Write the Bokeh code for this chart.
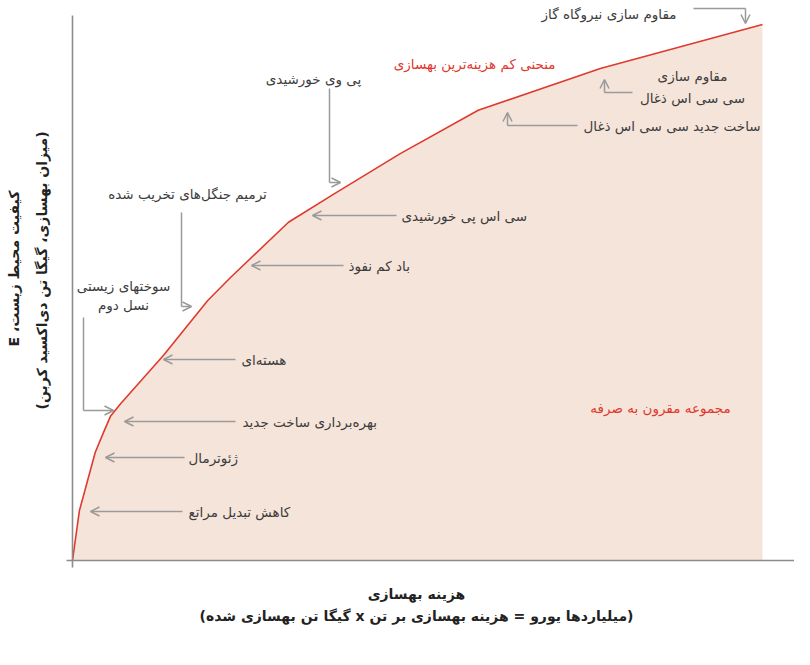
from math import pi
from bokeh.plotting import figure
from bokeh.models import Range1d, Arrow, OpenHead, ColumnDataSource
from bokeh.embed import file_html
from bokeh.resources import INLINE
from bokeh.core.properties import value

# ---------------- data ----------------
# cumulative abatement cost (x) vs. abatement volume (y), arbitrary units 0..100
cost = [0, 1.0, 3.3, 4.5, 5.5, 7.0, 13.2, 19.6, 22.9, 31.3, 37.8, 47.5, 58.8, 76.5, 100]
abatement = [0, 9.3, 20.2, 23.9, 26.9, 29.3, 38.3, 48.5, 52.8, 63.1, 68.3, 75.9, 84.0, 91.8, 100]

curve_label = "منحنی کم هزینه‌ترین بهسازی"
area_label = "مجموعه مقرون به صرفه"

RLE, PDF = "\u202b", "\u202c"
x_title = ["هزینه بهسازی",
           RLE + "(میلیاردها یورو = هزینه بهسازی بر تن x گیگا تن بهسازی شده)" + PDF]
y_title = [RLE + "کیفیت محیط زیست، E" + PDF,
           "(میزان بهسازی، گیگا تن دی‌اکسید کربن)"]

# ---------------- layout helpers (picture pixels -> data) ----------------
X0, SX = 72.0, 6.9
Y0, SY = 560.0, 5.36
def X(px): return (px - X0) / SX
def Y(py): return (Y0 - py) / SY

W, H = 794, 649
GRAY = "#9a9a9a"
AXIS = "#8c8c8c"
TXT = "#3c3c3c"
RED = "#e0392d"
FILL = "#f5e4da"
FONT = value("DejaVu Sans")

p = figure(width=W, height=H, output_backend="svg", toolbar_location=None,
           x_range=Range1d(X(0), X(W)), y_range=Range1d(Y(H), Y(0)),
           min_border=0, outline_line_color=None)
p.axis.visible = False
p.grid.visible = False
p.background_fill_color = "white"

# shaded feasible set and curve
p.varea(x=cost, y1=[0] * len(cost), y2=abatement, fill_color=FILL)
p.line(x=cost, y=abatement, line_color=RED, line_width=1.6)

# axes lines
p.segment(x0=[X(72), X(66)], y0=[Y(15), Y(560)], x1=[X(72), X(W)], y1=[Y(567), Y(560)],
          line_color=AXIS, line_width=1.6)

# ---------------- annotations ----------------
# straight arrows: (text, text px x, text px y, tail px x, head px x)
straight = [
    ("کاهش تبدیل مراتع", 188, 511, 182, 90),
    ("ژئوترمال", 188, 457, 184, 105),
    ("بهره‌برداری ساخت جدید", 242, 421, 235, 124),
    ("هسته‌ای", 241, 359, 235, 163),
    ("سی اس پی خورشیدی", 401, 215, 396, 312),
    ("باد کم نفوذ", 348, 265, 343, 251),
]
src_left = dict(x=[], y=[], t=[])
for t, tx, ty, xa, xb in straight:
    src_left["x"].append(X(tx)); src_left["y"].append(Y(ty)); src_left["t"].append(t)
    p.add_layout(Arrow(end=OpenHead(size=9, line_color=GRAY, line_width=1.5),
                       x_start=X(xa), y_start=Y(ty), x_end=X(xb), y_end=Y(ty),
                       line_color=GRAY, line_width=1.5))
src_left["x"].append(X(583)); src_left["y"].append(Y(125)); src_left["t"].append("ساخت جدید سی سی اس ذغال")
p.text(x="x", y="y", text="t", source=ColumnDataSource(src_left), text_font=FONT,
       text_font_size="13.5px", text_color=TXT, text_align="left", text_baseline="middle")

# elbow connectors: polyline points, last segment has the arrow head
elbows = [
    [(83, 317), (83, 410), (113, 410)],
    [(181, 212), (181, 306), (191, 306)],
    [(329, 88), (329, 182), (340, 182)],
    [(693, 8), (745, 8), (745, 23)],
    [(632, 92), (604, 92), (604, 79)],
    [(577, 125), (507, 125), (507, 112)],
]
for pts in elbows:
    p.line(x=[X(a) for a, _ in pts[:-1]], y=[Y(b) for _, b in pts[:-1]],
           line_color=GRAY, line_width=1.5)
    (xa, ya), (xb, yb) = pts[-2], pts[-1]
    p.add_layout(Arrow(end=OpenHead(size=9, line_color=GRAY, line_width=1.5),
                       x_start=X(xa), y_start=Y(ya), x_end=X(xb), y_end=Y(yb),
                       line_color=GRAY, line_width=1.5))

centered = [
    ("سوختهای زیستی", 123, 285),
    ("نسل دوم", 123, 304),
    ("ترمیم جنگل‌های تخریب شده", 187, 193),
    ("پی وی خورشیدی", 313, 78),
    ("مقاوم سازی", 692, 75),
    ("سی سی اس ذغال", 692, 97),
]
p.text(x=[X(a) for _, a, _ in centered], y=[Y(b) for _, _, b in centered],
       text=[t for t, _, _ in centered], text_font=FONT, text_font_size="13.5px",
       text_color=TXT, text_align="center", text_baseline="middle")
p.text(x=[X(676)], y=[Y(13)], text=["مقاوم سازی نیروگاه گاز"], text_font=FONT,
       text_font_size="13.5px", text_color=TXT, text_align="right", text_baseline="middle")

# red labels
p.text(x=[X(555)], y=[Y(63)], text=[curve_label], text_font=FONT, text_font_size="13.5px",
       text_color=RED, text_align="right", text_baseline="middle")
p.text(x=[X(660)], y=[Y(407)], text=[area_label], text_font=FONT, text_font_size="13.5px",
       text_color=RED, text_align="center", text_baseline="middle")

# axis titles
p.text(x=[X(416), X(416)], y=[Y(593), Y(615)], text=x_title, text_font=FONT,
       text_font_size="14px", text_font_style="bold", text_color="#222222",
       text_align="center", text_baseline="middle")
p.text(x=[X(13), X(41)], y=[Y(268), Y(270)], text=y_title, angle=pi / 2, text_font=FONT,
       text_font_size="14px", text_font_style="bold", text_color="#222222",
       text_align="center", text_baseline="middle")

open("out.html", "w").write(file_html(p, INLINE))
